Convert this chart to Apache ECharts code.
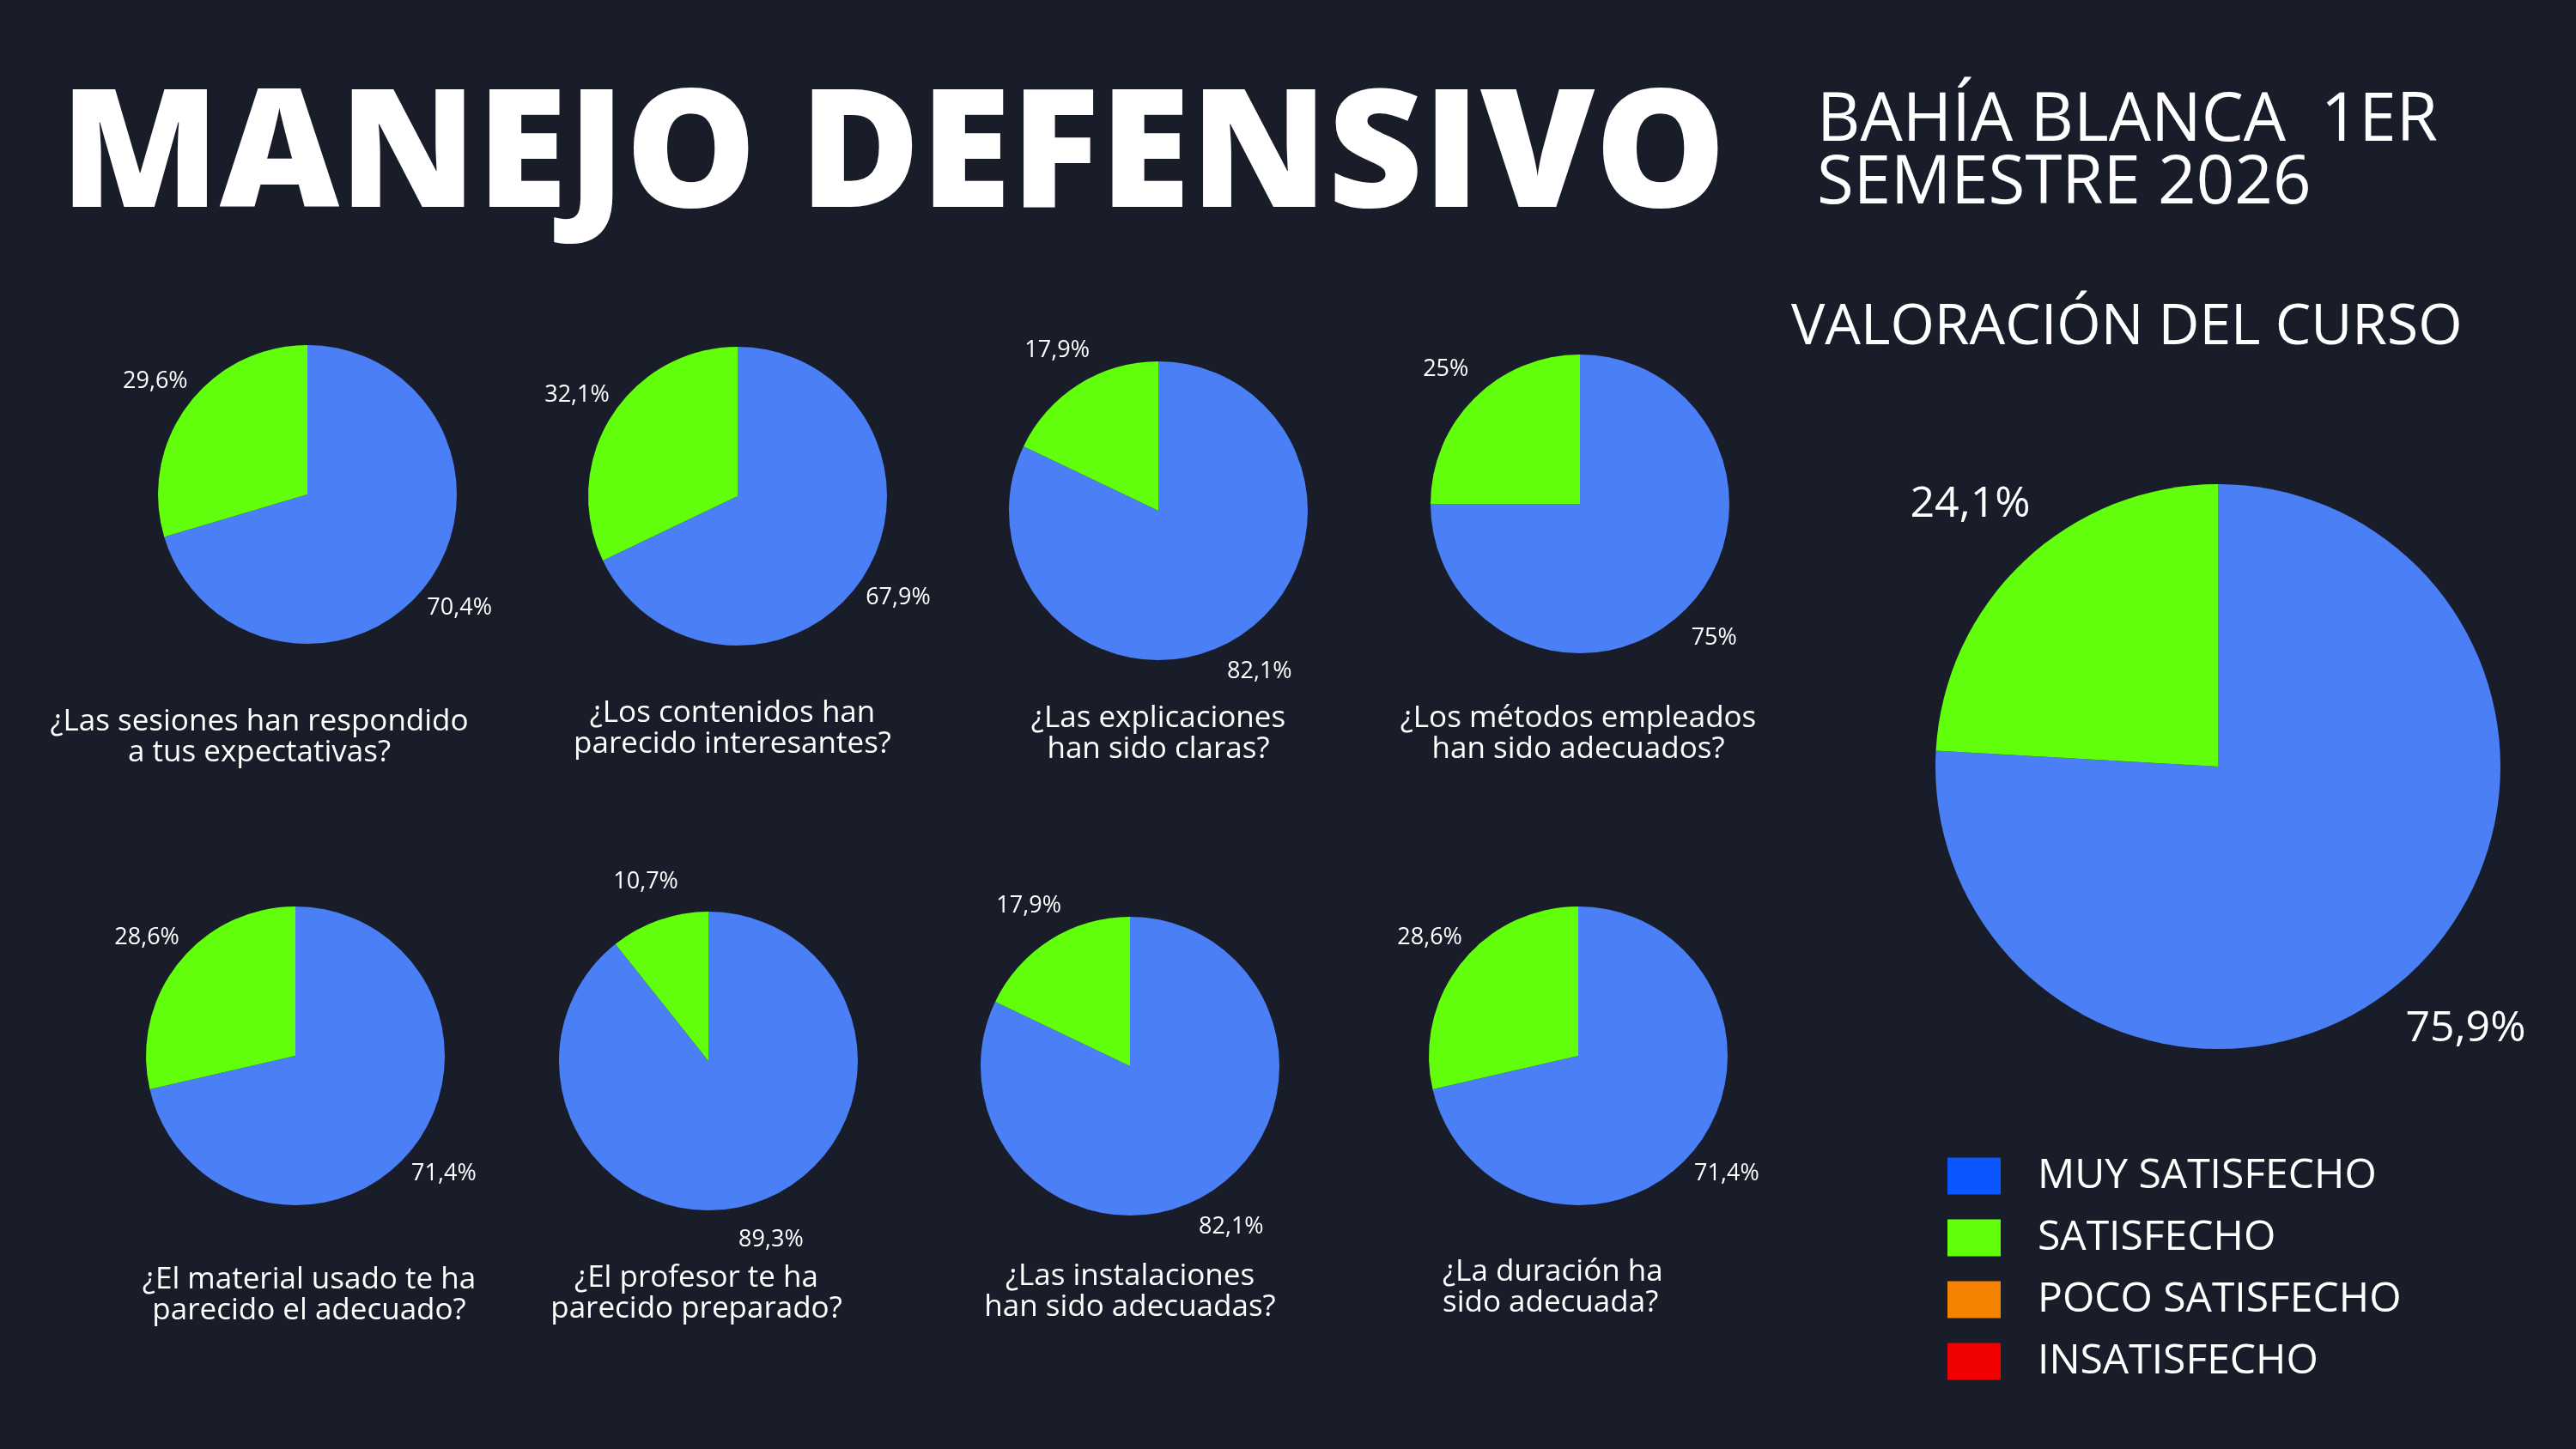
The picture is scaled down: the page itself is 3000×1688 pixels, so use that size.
<!DOCTYPE html>
<html>
<head>
<meta charset="utf-8">
<script src="https://cdn.jsdelivr.net/npm/echarts@6/dist/echarts.min.js"></script>
<style>
  html, body { margin: 0; padding: 0; background: #191d29; }
  #chart { width: 3000px; height: 1688px; }
</style>
</head>
<body>
<div id="chart"></div>
<script>
// datos de la encuesta
const categories = ['MUY SATISFECHO', 'SATISFECHO', 'POCO SATISFECHO', 'INSATISFECHO'];
const questions = [
  '¿Las sesiones han respondido\na tus expectativas?',
  '¿Los contenidos han\nparecido interesantes?',
  '¿Las explicaciones\nhan sido claras?',
  '¿Los métodos empleados\nhan sido adecuados?',
  '¿El material usado te ha\nparecido el adecuado?',
  '¿El profesor te ha\nparecido preparado?',
  '¿Las instalaciones\nhan sido adecuadas?',
  '¿La duración ha\nsido adecuada?'
];
const muySatisfecho = [70.4, 67.9, 82.1, 75, 71.4, 89.3, 82.1, 71.4];
const satisfecho = [29.6, 32.1, 17.9, 25, 28.6, 10.7, 17.9, 28.6];
const overall = [75.9, 24.1, 0, 0];

// colores y disposicion
const pieColors = ['#4a7ff5', '#62ff0d', '#f58300', '#f00000'];
const legendColors = ['#0a57ff', '#62ff0d', '#f58300', '#f00000'];
const smallCenters = [
  [358, 576], [859, 578], [1349, 595], [1840, 587],
  [344, 1230], [825, 1236], [1316, 1242], [1838, 1230]
];
const questionPos = [
  [302, 859, 'center'], [853, 849, 'center'], [1349, 855, 'center'], [1838, 855, 'center'],
  [360, 1509, 'center'], [811, 1507, 'center'], [1316, 1505, 'center'], [1680, 1500, 'left']
];
const smallR = 174;
const bigCenter = [2583, 893];
const bigR = 329;

const fmt = (v) => (v ? String(v).replace('.', ',') + '%' : '');

function pieSeries(values, center, r, labelDist, fontSize) {
  const data = values.map((v, i) => ({ name: categories[i], value: v, itemStyle: { color: pieColors[i] } }));
  return [
    {
      type: 'pie', center: center, radius: r, startAngle: 90, silent: true,
      label: { show: false }, labelLine: { show: false },
      itemStyle: { borderWidth: 0 },
      data: data
    },
    {
      // anillo invisible solo para ubicar las etiquetas fuera del circulo
      type: 'pie', center: center, radius: [r, r + 2 * labelDist], startAngle: 90, silent: true,
      itemStyle: { color: 'transparent', borderWidth: 0 },
      label: {
        show: true, position: 'inside', color: '#ffffff',
        fontFamily: 'Open Sans', fontSize: fontSize,
        formatter: (p) => fmt(p.value)
      },
      labelLine: { show: false },
      data: values.map((v, i) => ({ name: categories[i], value: v }))
    }
  ];
}

const series = [];
smallCenters.forEach((c, i) => {
  series.push(...pieSeries([muySatisfecho[i], satisfecho[i]], c, smallR, 44, 27));
});
series.push(...pieSeries(overall, bigCenter, bigR, 88, 50));

const textEls = [
  {
    type: 'text', x: 70, y: 186,
    style: { text: 'MANEJO DEFENSIVO', fill: '#fff', font: '800 192px "Open Sans"', textVerticalAlign: 'middle' }
  },
  {
    type: 'text', x: 2116, y: 178,
    style: { text: 'BAHÍA BLANCA  1ER\nSEMESTRE 2026', fill: '#fff', font: '400 78px "Open Sans"', lineHeight: 73, textVerticalAlign: 'middle' }
  },
  {
    type: 'text', x: 2086, y: 382,
    style: { text: 'VALORACIÓN DEL CURSO', fill: '#fff', font: '400 66px "Open Sans"', textVerticalAlign: 'middle' }
  }
];
questions.forEach((q, i) => {
  const p = questionPos[i];
  textEls.push({
    type: 'text', x: p[0], y: p[1],
    style: { text: q, fill: '#fff', font: '400 35px "Open Sans"', lineHeight: 36, textAlign: p[2], textVerticalAlign: 'middle' }
  });
});

const chart = echarts.init(document.getElementById('chart'));
chart.setOption({
  backgroundColor: '#191d29',
  animation: false,
  legend: {
    orient: 'vertical', left: 2263, top: 1341,
    icon: 'rect', itemWidth: 62, itemHeight: 43, itemGap: 24,
    selectedMode: false,
    textStyle: { color: '#fff', fontFamily: 'Open Sans', fontSize: 48, padding: [0, 0, 0, 38] },
    data: categories.map((n, i) => ({ name: n, itemStyle: { color: legendColors[i] } }))
  },
  graphic: textEls,
  series: series
});
</script>
</body>
</html>
